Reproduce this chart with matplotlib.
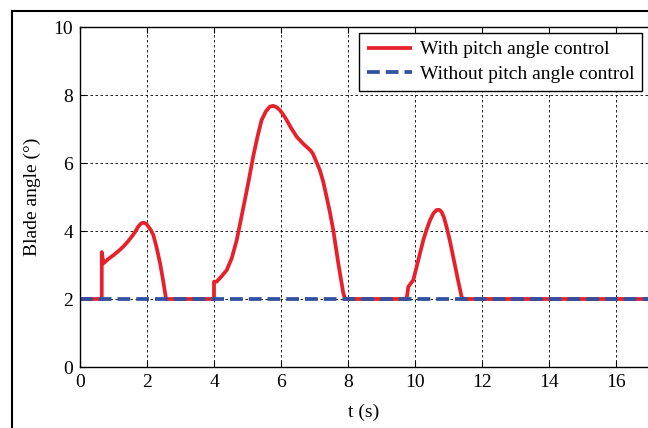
import matplotlib
matplotlib.use("Agg")
import matplotlib.pyplot as plt
from matplotlib.lines import Line2D

plt.rcParams['font.family'] = ['Liberation Serif', 'DejaVu Serif']

# Blade angle with pitch angle control
t_with = [0, 0.65, 0.65, 0.70, 0.85, 1.0, 1.15, 1.29, 1.42, 1.54, 1.65, 1.74, 1.80, 1.86,
          1.92, 1.98, 2.04, 2.12, 2.19, 2.29, 2.39, 2.48, 2.57,
          4.0, 4.0, 4.08, 4.22, 4.38, 4.53, 4.68, 4.88, 5.03, 5.17, 5.30, 5.42, 5.55, 5.67,
          5.77, 5.87, 5.97, 6.07, 6.17, 6.32, 6.47, 6.67, 6.87, 6.95, 7.01, 7.08, 7.16,
          7.26, 7.36, 7.46, 7.56, 7.71, 7.86, 7.92,
          9.75, 9.8, 9.95, 10.1, 10.25, 10.35, 10.45, 10.55, 10.65, 10.73, 10.8, 10.87,
          10.94, 11.04, 11.14, 11.27, 11.39, 11.42, 17]
angle_with = [2, 2, 3.38, 3.05, 3.18, 3.29, 3.41, 3.54, 3.68, 3.83, 3.98, 4.13, 4.20, 4.24,
              4.24, 4.21, 4.13, 4.02, 3.88, 3.50, 3.05, 2.55, 2.0,
              2.0, 2.51, 2.51, 2.66, 2.85, 3.20, 3.74, 4.71, 5.45, 6.19, 6.78, 7.26, 7.52, 7.66,
              7.68, 7.64, 7.55, 7.42, 7.26, 7.00, 6.77, 6.56, 6.38, 6.28, 6.14, 5.98, 5.79,
              5.45, 5.01, 4.55, 4.03, 3.05, 2.17, 2.0,
              2.0, 2.36, 2.56, 3.15, 3.74, 4.05, 4.32, 4.52, 4.62, 4.62, 4.55, 4.38,
              4.13, 3.72, 3.24, 2.62, 2.07, 2.0, 2.0]

# Without pitch angle control: constant
t_without = [0, 17]
angle_without = [2, 2]

x_ticks = [0, 2, 4, 6, 8, 10, 12, 14, 16]
y_ticks = [0, 2, 4, 6, 8, 10]

fig = plt.figure(figsize=(6.48, 4.28), dpi=100)
ax = fig.add_axes([80 / 648, 61 / 428, 568 / 648, 340 / 428])

ax.plot(t_with, angle_with, color='#e8202a', lw=2.7, label='With pitch angle control',
        solid_joinstyle='round', solid_capstyle='butt')
ax.plot(t_without, angle_without, color='#3050a0', lw=2.7, dashes=(3.4, 1.6),
        label='Without pitch angle control')

ax.set_xlim(0, 568 / 33.5)
ax.set_ylim(0, 10)
ax.set_xticks(x_ticks)
ax.set_yticks(y_ticks)
ax.grid(True, color='black', lw=0.6, linestyle=(0, (3, 3)))
ax.tick_params(direction='in', top=True, length=4, width=0.8, labelsize=14, pad=5)
ax.spines['right'].set_visible(False)
for s in ['left', 'bottom', 'top']:
    ax.spines[s].set_linewidth(1.0)

ax.set_xlabel('t (s)', fontsize=14, labelpad=9)
ax.set_ylabel('Blade angle (°)', fontsize=14, labelpad=9)

leg = ax.legend(loc='upper right', bbox_to_anchor=(562 / 568, 334 / 340), borderaxespad=0,
                fontsize=14, fancybox=False, framealpha=1, edgecolor='black',
                handlelength=2.3, handletextpad=0.4, borderpad=0.4, labelspacing=0.35)
leg.get_frame().set_linewidth(1.0)

# outer frame of the figure panel
fig.add_artist(Line2D([12 / 648, 12 / 648], [0, 1 - 11 / 428], color='black', lw=1.5))
fig.add_artist(Line2D([12 / 648, 1], [1 - 11 / 428, 1 - 11 / 428], color='black', lw=1.5))

fig.savefig('out.png', dpi=100)
